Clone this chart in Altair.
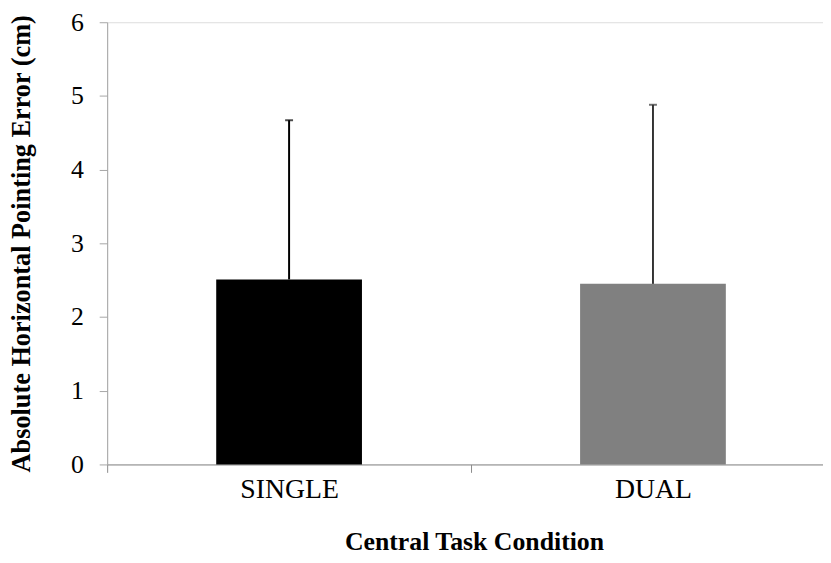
import altair as alt
import pandas as pd

conditions = ["SINGLE", "DUAL"]
means = [2.51, 2.45]
upper = [4.67, 4.88]
bar_colors = ["#000000", "#808080"]
err_colors = ["#000000", "#333333"]
y_ticks = [0, 1, 2, 3, 4, 5, 6]

df = pd.DataFrame({
    "cond": conditions,
    "mean": means,
    "upper": upper,
    "bar_color": bar_colors,
    "err_color": err_colors,
})

FONT = "Liberation Serif"

x = alt.X(
    "cond:N",
    sort=conditions,
    scale=alt.Scale(range=[0, 734], paddingInner=0, paddingOuter=0),
    axis=alt.Axis(
        title="Central Task Condition",
        labelAngle=0,
        labelFont=FONT,
        labelFontSize=28,
        labelColor="#000000",
        labelPadding=3,
        titleFont=FONT,
        titleFontSize=26,
        titleFontWeight="bold",
        titleColor="#000000",
        titleY=86,
        titleX=370,
        titleBaseline="alphabetic",
        domainColor="#8c8c8c",
        tickColor="#8c8c8c",
        tickSize=8,
        tickBand="extent",
        grid=False,
    ),
)

y = alt.Y(
    "mean:Q",
    scale=alt.Scale(domain=[0, 6], nice=False),
    axis=alt.Axis(
        title="Absolute Horizontal Pointing Error (cm)",
        values=y_ticks,
        format="d",
        labelFont=FONT,
        labelFontSize=26,
        labelColor="#000000",
        labelPadding=16,
        titleFont=FONT,
        titleFontSize=26.5,
        titleFontWeight="bold",
        titleColor="#000000",
        titleX=-86,
        titleBaseline="middle",
        domainColor="#a6a6a6",
        tickColor="#a6a6a6",
        tickSize=8,
        grid=False,
    ),
)

bars = alt.Chart(df).mark_bar(size=147).encode(
    x=x,
    y=y,
    color=alt.Color("bar_color:N", scale=None),
)

rules = alt.Chart(df).mark_rule(strokeWidth=2).encode(
    x=alt.X("cond:N", sort=conditions),
    y=alt.Y("mean:Q"),
    y2=alt.Y2("upper:Q"),
    color=alt.Color("err_color:N", scale=None),
)

caps = alt.Chart(df).mark_tick(orient="horizontal", size=8, thickness=2).encode(
    x=alt.X("cond:N", sort=conditions),
    y=alt.Y("upper:Q"),
    color=alt.Color("err_color:N", scale=None),
)

chart = alt.layer(bars, rules, caps).properties(
    width=722,
    height=446,
    autosize=alt.AutoSizeParams(type="none"),
    padding={"left": 100, "top": 12, "right": 0, "bottom": 89},
).configure_view(stroke=None).configure(background="#ffffff")

chart.save("out.html", embed_options={"renderer": "svg", "actions": False})
